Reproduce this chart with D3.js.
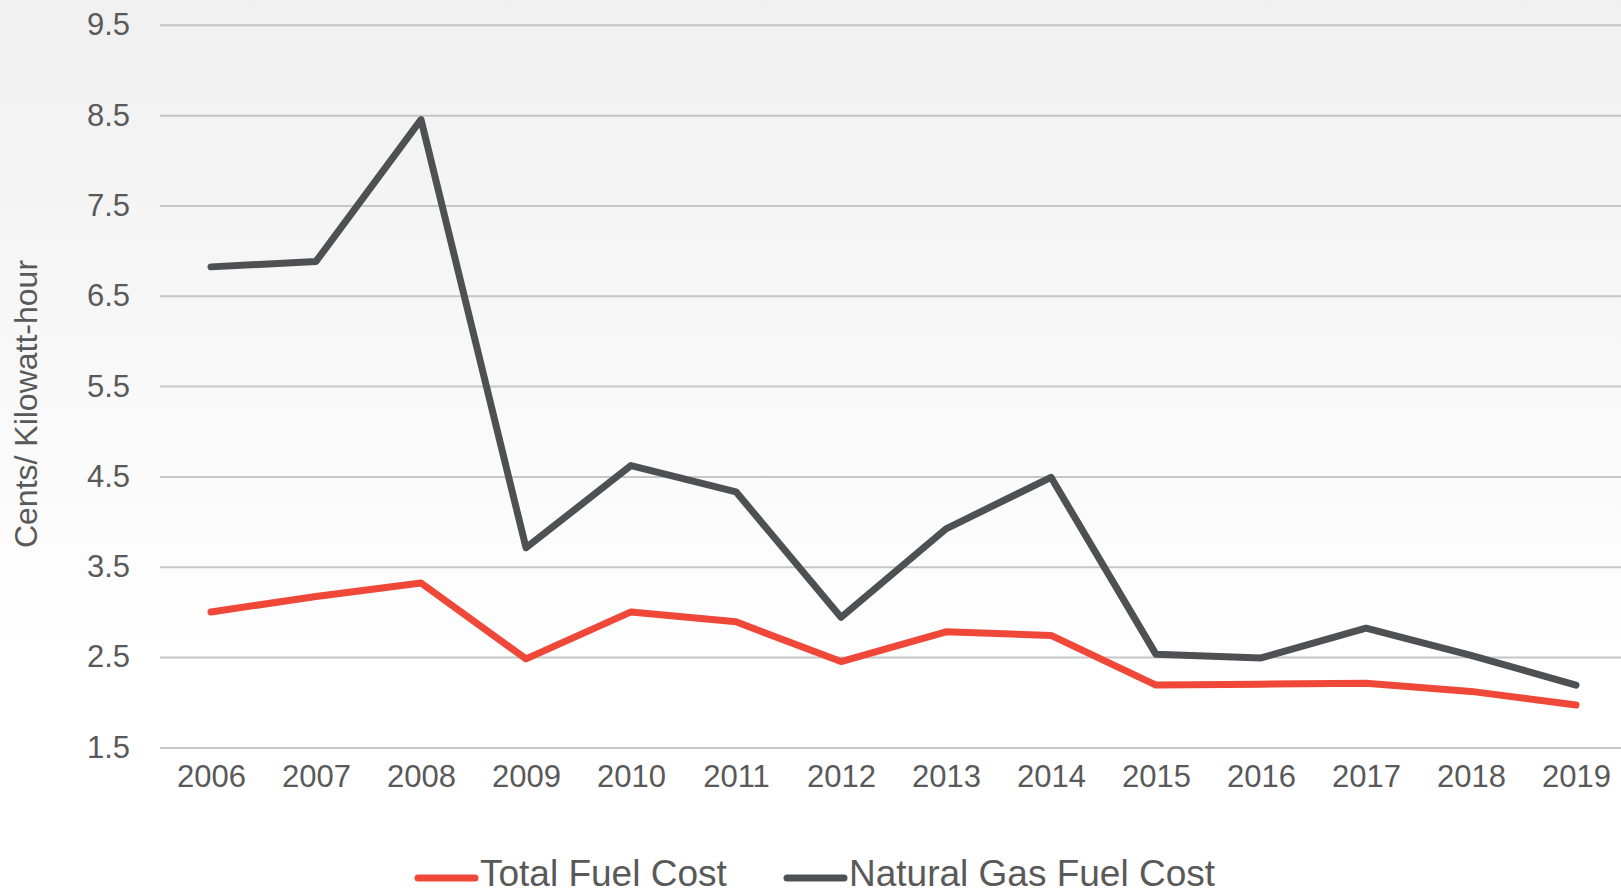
<!DOCTYPE html>
<html>
<head>
<meta charset="utf-8">
<script src="https://cdn.jsdelivr.net/npm/d3@7"></script>
<style>
    html, body { margin: 0; padding: 0; background: #fff; overflow: hidden; }
    text { font-family: "Liberation Sans", Arial, sans-serif; fill: #595959; }
</style>
</head>
<body>
<div id="chart"></div>
<script>
const years = ['2006', '2007', '2008', '2009', '2010', '2011', '2012', '2013', '2014', '2015', '2016', '2017', '2018', '2019'];
const totalFuelCost = [3.00, 3.17, 3.32, 2.48, 3.00, 2.89, 2.45, 2.78, 2.74, 2.19, 2.20, 2.21, 2.12, 1.97];
const naturalGasFuelCost = [6.82, 6.88, 8.45, 3.71, 4.62, 4.33, 2.94, 3.92, 4.49, 2.53, 2.49, 2.82, 2.52, 2.19];
const yTicks = [1.5, 2.5, 3.5, 4.5, 5.5, 6.5, 7.5, 8.5, 9.5];
const seriesNames = ['Total Fuel Cost', 'Natural Gas Fuel Cost'];
const seriesColors = ['#ef4839', '#4f5054'];

class LineChart {
    constructor(_config) {
        this.config = {
            parentElement: _config.parentElement,
            containerWidth: _config.containerWidth || 1621,
            containerHeight: _config.containerHeight || 895
        }
        this.series = [totalFuelCost, naturalGasFuelCost];
        this.initVis();
    }

    initVis() {
        let vis = this;

        vis.svg = d3.select(vis.config.parentElement).append('svg')
            .attr('width', vis.config.containerWidth)
            .attr('height', vis.config.containerHeight);

        // soft grey fade behind everything
        const grad = vis.svg.append('defs').append('linearGradient')
            .attr('id', 'bg').attr('x1', 0).attr('y1', 0).attr('x2', 0).attr('y2', 1);
        grad.append('stop').attr('offset', '0%').attr('stop-color', '#f0f0f0');
        grad.append('stop').attr('offset', '75%').attr('stop-color', '#ffffff');

        vis.svg.append('rect')
            .attr('width', vis.config.containerWidth)
            .attr('height', vis.config.containerHeight)
            .attr('fill', 'url(#bg)');

        vis.xScale = d3.scalePoint().domain(years).range([211, 1576]);
        vis.yScale = d3.scaleLinear().domain([1.5, 9.5]).range([747.4, 24.8]);

        vis.line = d3.line()
            .x((d, i) => vis.xScale(years[i]))
            .y(d => vis.yScale(d));

        vis.renderVis();
    }

    renderVis() {
        let vis = this;

        // y axis: gridlines + labels
        const yAxis = d3.axisLeft(vis.yScale)
            .tickValues(yTicks)
            .tickSize(-(vis.config.containerWidth - 160))
            .tickPadding(30)
            .tickFormat(d3.format('.1f'));

        const yg = vis.svg.append('g')
            .attr('transform', 'translate(160,0)')
            .call(yAxis);
        yg.select('.domain').remove();
        yg.selectAll('.tick line').attr('stroke', '#c6c6c6').attr('stroke-width', 2);
        yg.selectAll('.tick text')
            .attr('font-size', 31)
            .attr('font-family', '"Liberation Sans", Arial, sans-serif')
            .attr('fill', '#595959');

        // x axis labels only
        const xAxis = d3.axisBottom(vis.xScale).tickSize(0).tickPadding(0);
        const xg = vis.svg.append('g')
            .attr('transform', 'translate(0,760)')
            .call(xAxis);
        xg.select('.domain').remove();
        xg.selectAll('.tick text')
            .attr('font-size', 31)
            .attr('font-family', '"Liberation Sans", Arial, sans-serif')
            .attr('fill', '#595959')
            .attr('dy', '0.87em');

        // axis title
        vis.svg.append('text')
            .attr('transform', 'translate(37,404) rotate(-90)')
            .attr('text-anchor', 'middle')
            .attr('font-size', 32)
            .text('Cents/ Kilowatt-hour');

        // lines - grey first so red sits on top
        [1, 0].forEach(i => {
            vis.svg.append('path')
                .datum(vis.series[i])
                .attr('d', vis.line)
                .attr('fill', 'none')
                .attr('stroke', seriesColors[i])
                .attr('stroke-width', 7)
                .attr('stroke-linejoin', 'round')
                .attr('stroke-linecap', 'round');
        });

        // legend
        const legendX = [418, 787];
        const legend = vis.svg.append('g').attr('class', 'legend');
        seriesNames.forEach((name, i) => {
            legend.append('line')
                .attr('x1', legendX[i]).attr('x2', legendX[i] + 57)
                .attr('y1', 878).attr('y2', 878)
                .attr('stroke', seriesColors[i])
                .attr('stroke-width', 7)
                .attr('stroke-linecap', 'round');
            legend.append('text')
                .attr('x', legendX[i] + 62)
                .attr('y', 886)
                .attr('font-size', 37)
                .text(name);
        });
    }
}

new LineChart({parentElement: '#chart'});
</script>
</body>
</html>
